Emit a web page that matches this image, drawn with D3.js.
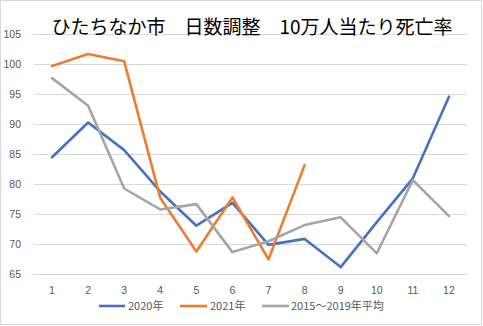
<!DOCTYPE html>
<html><head><meta charset="utf-8">
<script src="https://cdn.jsdelivr.net/npm/d3@7"></script>
<style>body{margin:0;background:#fff}svg{display:block}</style>
</head><body>
<svg id="c" width="483" height="326"></svg>
<script>
const months = ["1","2","3","4","5","6","7","8","9","10","11","12"];
const s2020 = [84.5,90.3,85.7,78.8,73.1,76.9,69.9,70.9,66.2,73.7,81.0,94.6];
const s2021 = [99.7,101.7,100.5,77.7,68.8,77.8,67.5,83.2];
const sAvg = [97.7,93.1,79.3,75.8,76.7,68.7,70.5,73.2,74.5,68.5,80.7,74.7];
const yTicks = [65,70,75,80,85,90,95,100,105];
const seriesNames = ["2020年","2021年","2015～2019年平均"];
const colors = ["#4472C4","#ED7D31","#A5A5A5"];
const title = "ひたちなか市\u3000日数調整\u300010万人当たり死亡率";

const svg = d3.select("#c");
svg.append("rect").attr("x",0.5).attr("y",0.5).attr("width",481).attr("height",324)
  .attr("fill","#fff").attr("stroke","#d9d9d9");

const x = d3.scaleBand().domain(months).range([34,467]);
const y = d3.scaleLinear().domain([65,105]).range([274.3,34.3]);

svg.append("g").selectAll("line").data(yTicks).join("line")
  .attr("x1",34).attr("x2",467).attr("y1",d=>Math.round(y(d))+0.5).attr("y2",d=>Math.round(y(d))+0.5)
  .attr("stroke","#d9d9d9").attr("stroke-width",1);

svg.append("g").selectAll("text").data(yTicks).join("text")
  .attr("x",21).attr("y",d=>y(d)+4).attr("text-anchor","end")
  .attr("font-family","Liberation Sans, Arial, sans-serif").attr("font-size",10.5).attr("fill","#595959")
  .text(d=>d);

svg.append("g").selectAll("text").data(months).join("text")
  .attr("x",d=>x(d)+x.bandwidth()/2).attr("y",293.5).attr("text-anchor","middle")
  .attr("font-family","Liberation Sans, Arial, sans-serif").attr("font-size",10.5).attr("fill","#595959")
  .text(d=>d);

const line = d3.line().x((d,i)=>x(months[i])+x.bandwidth()/2).y(d=>y(d));
[s2020,s2021,sAvg].forEach((s,k)=>{
  svg.append("path").datum(s).attr("d",line).attr("fill","none")
    .attr("stroke",colors[k]).attr("stroke-width",2.6).attr("stroke-linejoin","round").attr("stroke-linecap","round");
});

svg.append("text").attr("x",252).attr("y",34).attr("text-anchor","middle")
  .attr("font-family","Noto Sans CJK JP, sans-serif").attr("font-size",19).attr("fill","#000")
  .text(title);

const leg = [{x1:99,x2:125,tx:128},{x1:180,x2:207,tx:210},{x1:262,x2:289,tx:291}];
leg.forEach((l,k)=>{
  svg.append("line").attr("x1",l.x1).attr("x2",l.x2).attr("y1",306).attr("y2",306)
    .attr("stroke",colors[k]).attr("stroke-width",2.6);
  svg.append("text").attr("x",l.tx).attr("y",310).attr("font-family","Noto Sans CJK JP, sans-serif")
    .attr("font-size",11).attr("fill","#595959").text(seriesNames[k]);
});
</script>
</body></html>
